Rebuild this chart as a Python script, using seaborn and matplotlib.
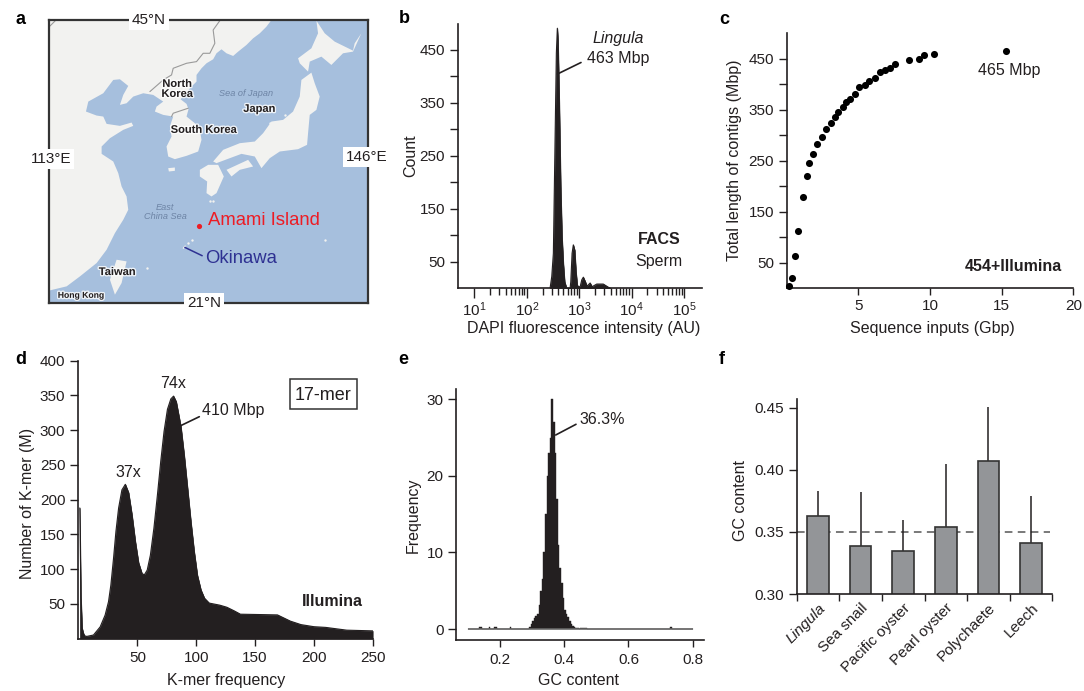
import numpy as np
import pandas as pd
import matplotlib
matplotlib.use("Agg")
import matplotlib.pyplot as plt
from matplotlib.ticker import NullFormatter
from matplotlib.transforms import Affine2D, ScaledTranslation
from matplotlib.lines import Line2D
from matplotlib.patches import Rectangle
import matplotlib.patheffects as pe
import seaborn as sns

# ---------- data ----------
# panel a: map outlines in map-grid units
land_main = [(147,60),(815,60),(800,80),(780,100),(760,115),(740,135),(715,155),(700,168),(680,160),(665,148),(650,160),(640,178),(620,190),(605,205),(590,225),(590,245),(570,265),(555,285),(542,298),(560,312),(566,328),(560,350),(585,370),(600,390),(605,420),(595,455),(560,468),(525,478),(505,470),(500,440),(515,410),(510,380),(520,350),(490,345),(465,335),(470,320),(490,305),(460,285),(430,280),(400,290),(380,310),(360,315),(370,285),(385,258),(360,238),(340,240),(310,280),(265,305),(258,335),(290,347),(310,350),(320,372),(360,378),(395,368),(400,378),(370,390),(330,415),(305,440),(305,462),(340,485),(355,520),(365,560),(380,590),(385,630),(370,660),(345,700),(320,750),(290,790),(240,830),(200,860),(150,872)]
land_honshu = [(935,218),(945,250),(960,290),(950,330),(930,345),(925,400),(922,435),(895,448),(840,455),(810,475),(785,505),(765,470),(725,462),(690,475),(650,490),(640,485),(670,450),(720,430),(765,425),(790,400),(815,365),(850,360),(880,335),(900,290),(905,240)]
land_hokkaido = [(950,62),(975,100),(1005,125),(1060,152),(1065,130),(1085,100),(1060,155),(1030,160),(995,195),(965,170),(930,185),(925,215),(900,190),(895,175),(935,145),(955,100)]
land_shikoku = [(680,510),(745,480),(760,500),(720,510),(695,530)]
land_kyushu = [(600,510),(625,495),(655,495),(672,530),(650,580),(635,590),(620,580),(622,545),(600,530)]
land_taiwan = [(350,780),(380,785),(365,850),(345,885),(330,840)]
land_jeju = [(505,505),(525,503),(525,513),(507,515)]
land_okinawa = [(548,745),(556,736),(558,740),(551,748)]
islets_x = [630,640,575,565,440,975,855,810]
islets_y = [605,603,722,730,805,722,345,370]
border_nk = [(660,62),(640,90),(645,130),(630,160),(610,160),(590,185),(560,190),(520,205),(515,225),(490,240),(450,275)]
border_sk = [(565,325),(520,340),(515,350)]
border_corner = [(150,78),(166,62)]
map_labels = [("North\nKorea",532,267),("Japan",779,327),("South Korea",612,390),("Taiwan",352,817),("Hong Kong",244,887)]
sea_labels = [("Sea of Japan",738,281),("East\nChina Sea",496,638)]

# panel b
facs_log_intensity = [2.445,2.477,2.508,2.527,2.546,2.565,2.584,2.597,2.622,2.649,2.674,2.699,2.725,2.763,2.827,2.84,2.865,2.889,2.916,2.94,2.966,3.017,3.05,3.08,3.12,3.15,3.21,3.246,3.336,3.46,3.557,3.6]
facs_count = [0,22,66,192,318,444,491,469,350,192,97,47,12,0,0,12,66,82,72,32,5,2,16,21,12,4,10,3,8,8,2,0]

# panel c
seq_input = [.14,.4,.58,.81,1.14,1.4,1.58,1.84,2.14,2.44,2.77,3.07,3.37,3.6,3.93,4.12,4.44,4.74,5.07,5.44,5.74,6.14,6.53,6.88,7.23,7.53,8.53,9.23,9.6,10.3,15.3]
contig_len = [5,21,64,113,179,221,246,264,283,297,312,325,337,346,355,365,372,382,395,399,406,413,424,427.5,433,440.5,448,450,457,459,465]

# panel d
kmer_freq = [1,2,3,4,5,6.9,12.6,18.3,22.5,25.4,27.4,29.7,31.7,34,36.8,39.7,42.5,45.4,48.3,51,54,56,58.3,61,64,67,69.8,72.6,75.5,78.4,80.7,83,87,89.8,92.6,95.5,98.3,101,104,107,111,120,126,132,137.5,169,180,189,200,210,228,250]
kmer_count = [188,60,15,8,4,3,5,16.7,33.6,53,77,116,154,188,214,222,210,178,139,109,93,92,98.5,120,159,207,255,298,330,345,349,341,305,264,217,168,125,91,70,58,51,48,45,40,35,34,25,20,17,16,12,11]

# panel e
gc_bin = [.1375,.1425,.1675,.1825,.1875,.2325,.2925,.2975,.3025,.3075,.3125,.3175,.3225,.3275,.3325,.3375,.3425,.3475,.3525,.3575,.3625,.3675,.3725,.3775,.3825,.3875,.3925,.3975,.4025,.4075,.4125,.4175,.4225,.4275,.4325,.4375,.4425,.4525,.4575,.4625,.4675,.7325]
gc_freq = [.3,.3,.3,.3,.3,.3,.3,.6,1,1.4,1.7,2.0,3.2,5,6.5,10,15,20,23,25,30,27,23,17,11,8,6,4,2.5,1.9,1.6,1,.7,.4,.3,.2,.15,.2,.2,.2,.2,.3]

# panel f
species = ["Lingula","Sea snail","Pacific oyster","Pearl oyster","Polychaete","Leech"]
gc_mean = [.363,.339,.335,.354,.407,.341]
gc_top = [.383,.382,.360,.405,.451,.379]

# ---------- style ----------
W, H = 1084, 691
INK = "#231F20"
TICK = 11
LAB = 11.5
sns.set_theme(style="ticks")
plt.rcParams.update({
    "font.family": ["Liberation Sans", "DejaVu Sans"],
    "mathtext.default": "regular",
    "mathtext.fontset": "custom",
    "mathtext.rm": "Liberation Sans",
    "text.color": INK, "axes.labelcolor": INK,
    "xtick.color": INK, "ytick.color": INK,
    "axes.edgecolor": INK, "axes.linewidth": 1.2,
    "xtick.labelcolor": INK, "ytick.labelcolor": INK,
    "xtick.labelsize": TICK, "ytick.labelsize": TICK,
    "axes.labelsize": LAB,
})
fig = plt.figure(figsize=(W/100, H/100), dpi=100, facecolor="white")
PX = Affine2D().scale(1/W, -1/H).translate(0, 1) + fig.transFigure

def axpx(l, t, r, b):
    ax = fig.add_axes([l/W, 1-b/H, (r-l)/W, (b-t)/H])
    ax.patch.set_alpha(0)
    sns.despine(ax=ax)
    return ax

def ptext(x, y, s, **kw):
    kw.setdefault("ha", "center"); kw.setdefault("va", "center")
    kw.setdefault("fontsize", LAB)
    return fig.text(x, y, s, transform=PX, **kw)

def pline(x0, y0, x1, y1, color=INK, lw=1.2):
    fig.add_artist(Line2D([x0, x1], [y0, y1], transform=PX, color=color, lw=lw))

def labels(ax, xl, xp, yl, yp):
    if xl:
        ax.set_xlabel(xl, va="center")
        ax.xaxis.set_label_coords(*xp, transform=PX)
    else:
        ax.set_xlabel("")
    ax.set_ylabel(yl, va="center")
    ax.yaxis.set_label_coords(*yp, transform=PX)

def yticks_every(ax, step, top):
    vals = np.arange(step, top+1, step)
    ax.set_yticks(vals)
    ax.set_yticklabels([str(v) if v % 100 == 50 else "" for v in vals])

for s, x, y in [("a",20.5,19),("b",404,18.5),("c",724,19.5),("d",21,360),("e",403,360),("f",722,360)]:
    ptext(x, y, s, fontsize=13, fontweight="bold", color="black")

# ---------- a: map ----------
ax = fig.add_axes([49/W, 1-303/H, 319/W, 283/H])
ax.set_xlim(147, 1105); ax.set_ylim(910, 60)
ax.set_facecolor("#A6BFDD")
for poly in [land_main, land_honshu, land_hokkaido, land_shikoku, land_kyushu, land_taiwan, land_jeju, land_okinawa]:
    xs, ys = zip(*poly)
    ax.fill(xs, ys, color="#F2F2F0", lw=0)
ax.scatter(islets_x, islets_y, s=3, color="#F2F2F0", lw=0)
for b in [border_nk, border_sk, border_corner]:
    xs, ys = zip(*b)
    ax.plot(xs, ys, color="#9a9a9a", lw=0.8)
halo = [pe.withStroke(linewidth=2, foreground="white", alpha=.8)]
for s, x, y in map_labels:
    ax.text(x, y, s, fontsize=6.2 if s == "Hong Kong" else 8, fontweight="bold", ha="center", va="center", linespacing=1.0, path_effects=halo)
for s, x, y in sea_labels:
    ax.text(x, y, s, fontsize=6.6, style="italic", color="#6d84a5", ha="center", va="center", linespacing=1.0)
ax.scatter([598], [679], s=14, color="#ed1c24", lw=0, zorder=3)
ax.text(626, 663, "Amami Island", color="#ed1c24", fontsize=13.3, va="center")
ax.plot([555, 607], [743, 768], color="#2e3192", lw=1.1)
ax.text(617, 775, "Okinawa", color="#2e3192", fontsize=13.3, va="center")
ax.set_xticks([]); ax.set_yticks([])
for sp in ax.spines.values():
    sp.set_linewidth(1.6); sp.set_visible(True); sp.set_color("#333333"); sp.set_zorder(4)
for s, x, y in [("45°N",447,60),("21°N",613,910),("113°E",152,478),("146°E",1100,472)]:
    ax.text(x, y, s, fontsize=TICK, ha="center", va="center", zorder=5, clip_on=False,
            bbox=dict(fc="white", ec="none", pad=2))

# ---------- b: FACS ----------
ax = axpx(457.7, 24, 701.7, 288.3)
facs = pd.DataFrame({"x": 10**np.array(facs_log_intensity), "y": facs_count})
ax.fill_between(facs["x"], facs["y"], color=INK, lw=0.4, zorder=1)
sns.lineplot(data=facs, x="x", y="y", color=INK, lw=0.8, ax=ax, errorbar=None, sort=False, zorder=2)
ax.set_xscale("log")
ax.set_xlim(10**0.683, 10**5.338); ax.set_ylim(0, 499)
ax.set_xticks([10.0**k for k in range(1, 6)])
ax.set_xticklabels([f"$10^{k}$" for k in range(1, 6)])
ax.set_xticks([m*10.0**k for k in range(1, 5) for m in range(2, 10)], minor=True)
ax.xaxis.set_minor_formatter(NullFormatter())
ax.tick_params(axis="x", which="major", length=7, width=1, pad=2)
ax.tick_params(axis="x", which="minor", length=5, width=1)
yticks_every(ax, 50, 450)
ax.tick_params(axis="y", length=6, width=1, pad=3)
labels(ax, "DAPI fluorescence intensity (AU)", (584, 329), "Count", (410.7, 155.7))
pline(557.5, 74, 581, 62.5)
ptext(618, 38, "Lingula", style="italic")
ptext(618, 58, "463 Mbp")
ptext(659, 239, "FACS", fontweight="bold")
ptext(659, 262, "Sperm")

# ---------- c: contigs ----------
ax = axpx(786.7, 33, 1073.3, 288.3)
sns.scatterplot(x=seq_input, y=contig_len, color="black", s=26, lw=0, ax=ax, clip_on=False, zorder=3)
ax.set_xlim(0, 20); ax.set_ylim(0, 501)
ax.set_xticks([5, 10, 15, 20])
yticks_every(ax, 50, 450)
ax.tick_params(axis="x", length=5, width=1, pad=2.5)
ax.tick_params(axis="y", length=6, width=1, pad=3)
labels(ax, "Sequence inputs (Gbp)", (932.7, 329), "Total length of contigs (Mbp)", (735, 160))
ptext(1009.5, 70, "465 Mbp")
ptext(1013, 267, "454+Illumina", fontweight="bold")

# ---------- d: k-mer ----------
ax = axpx(77.8, 360.7, 372.7, 638.5)
kmer = pd.DataFrame({"f": kmer_freq, "n": kmer_count})
ax.fill_between(kmer["f"], kmer["n"], color=INK, lw=0.4, zorder=1)
sns.lineplot(data=kmer, x="f", y="n", color=INK, lw=0.8, ax=ax, errorbar=None, zorder=2)
ax.set_xlim(-0.7, 250); ax.set_ylim(0, 400)
ax.set_xticks([50, 100, 150, 200, 250])
ax.set_yticks(np.arange(50, 401, 50))
ax.tick_params(axis="x", length=5, width=1, pad=4)
ax.tick_params(axis="y", length=6, width=1, pad=3)
labels(ax, "K-mer frequency", (226, 680.7), "Number of K-mer (M)", (27.3, 503))
ptext(172.7, 384, "74x")
ptext(128, 472.7, "37x")
ptext(233, 411, "410 Mbp")
pline(180, 426, 199.3, 416.7)
fig.add_artist(Rectangle((290, 379.5), 66.7, 30, transform=PX, fc="white", ec="#333333", lw=1.1))
ptext(323, 395.5, "17-mer", fontsize=13)
ptext(332.7, 601.7, "Illumina", fontweight="bold")

# ---------- e: GC histogram ----------
ax = axpx(456, 389, 704.3, 640.3)
sns.histplot(x=gc_bin, weights=gc_freq, bins=140, binrange=(.1, .8), stat="count", element="step",
             color=INK, alpha=1, linewidth=.3, edgecolor=INK, ax=ax)
ax.hlines(0, .1, .8, color="#6b6b6b", lw=1.1, zorder=3)
ax.set_xlim(.063, .836); ax.set_ylim(-1.47, 31.35)
ax.set_xticks([.2, .4, .6, .8]); ax.set_xticklabels(["0.2", "0.4", "0.6", "0.8"])
ax.set_yticks([0, 10, 20, 30])
ax.tick_params(axis="x", length=5, width=1, pad=4)
ax.tick_params(axis="y", length=6, width=1, pad=3)
labels(ax, "GC content", (579, 680.7), "Frequency", (413.3, 515))
pline(555.7, 435, 576, 424.3)
ptext(602.3, 419.3, "36.3%")

# ---------- f: GC by species ----------
ax = axpx(796.7, 399.3, 1052.3, 594)
sns.barplot(x=species, y=gc_mean, color="#939598", saturation=1, width=.51,
            edgecolor="#333333", linewidth=1.2, ax=ax, zorder=2)
ax.vlines(range(6), gc_mean, gc_top, color=INK, lw=1.1, zorder=1)
ax.plot([-.5, 5.45], [.35, .35], color="#555555", lw=1.1, ls=(0, (5, 3.5)), zorder=0)
ax.set_xlim(-.5, 5.5); ax.set_ylim(.30, .457)
ax.set_xticks(range(6))
ax.set_xticklabels(species, rotation=45, ha="right", rotation_mode="anchor")
ax.get_xticklabels()[0].set_style("italic")
shift = ScaledTranslation(6/72, 0, fig.dpi_scale_trans)
for t in ax.get_xticklabels():
    t.set_transform(t.get_transform() + shift)
ax.set_xticks(np.arange(-.5, 6), minor=True)
ax.tick_params(axis="x", which="major", length=0, pad=5)
ax.tick_params(axis="x", which="minor", length=5, width=1)
ax.set_yticks([.30, .35, .40, .45]); ax.set_yticklabels(["0.30", "0.35", "0.40", "0.45"])
ax.tick_params(axis="y", length=6, width=1, pad=3)
labels(ax, "", None, "GC content", (740.7, 500.7))

fig.savefig("out.png", dpi=100)
